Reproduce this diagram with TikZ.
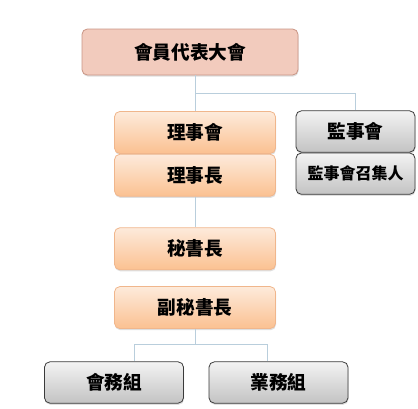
\documentclass[tikz,border=0pt]{standalone}
\usepackage{fontspec}
\newfontfamily\cjk{Noto Sans CJK TC}
\usetikzlibrary{positioning,shadows}
\definecolor{pinkfill}{HTML}{F2CBBD}
\definecolor{pinkline}{HTML}{C99585}
\definecolor{orangetop}{HTML}{FDEADB}
\definecolor{orangebottom}{HTML}{FBC191}
\definecolor{orangeline}{HTML}{F0B68C}
\definecolor{graytop}{HTML}{F3F3F3}
\definecolor{graybottom}{HTML}{C3C3C3}
\definecolor{grayline}{HTML}{3A3A3A}
\definecolor{linkcolor}{HTML}{B9CEDC}
\tikzstyle{box} = [rectangle, rounded corners=4pt, text centered, inner sep=0pt, line width=0.6pt, font=\cjk\bfseries\fontsize{14}{16}\selectfont, drop shadow={opacity=0.25, shadow xshift=0.4pt, shadow yshift=-1.2pt}]
\tikzstyle{assembly} = [box, minimum width=162pt, minimum height=34.5pt, fill=pinkfill, draw=pinkline]
\tikzstyle{officer} = [box, minimum width=120.75pt, minimum height=31.5pt, top color=orangetop, bottom color=orangebottom, draw=orangeline]
\tikzstyle{audit} = [box, minimum width=89.25pt, minimum height=31pt, top color=graytop, bottom color=graybottom, draw=grayline]
\tikzstyle{group} = [box, minimum width=104.25pt, minimum height=31pt, top color=graytop, bottom color=graybottom, draw=grayline]
\tikzstyle{link} = [linkcolor, line width=0.75pt]

\begin{document}
\begin{tikzpicture}[x=0.75pt, y=-0.75pt]
\useasboundingbox (0,0) rectangle (418,408);
\node (assembly) [assembly] at (190,52) {會員代表大會};
\node (board) [officer] at (195,132.5) {理事會};
\node (chair) [officer, below = 0pt of board] {理事長};
\node (supervisors) [audit] at (355.5,131.5) {監事會};
\node (convener) [audit, below = 0pt of supervisors, font=\cjk\bfseries\fontsize{12}{14}\selectfont] {監事會召集人};
\node (secretary) [officer, below = 23pt of chair] {秘書長};
\node (deputy) [officer, below = 12pt of secretary] {副秘書長};
\node (affairs) [group] at (114,382.5) {會務組};
\node (business) [group] at (278.5,382.5) {業務組};
\coordinate (split) at (195,93);
\coordinate (fork) at (195,344);
\coordinate (affairsdrop) at (134,344);
\coordinate (businessdrop) at (267,344);
\draw [link] (assembly.south -| board.north) -- (board.north);
\draw [link] (split) -| (supervisors.north);
\draw [link] (chair) -- (secretary);
\draw [link] (deputy) -- (fork);
\draw [link] (affairsdrop) -- (businessdrop);
\draw [link] (affairsdrop) -- (affairsdrop |- affairs.north);
\draw [link] (businessdrop) -- (businessdrop |- business.north);
\end{tikzpicture}
\end{document}
